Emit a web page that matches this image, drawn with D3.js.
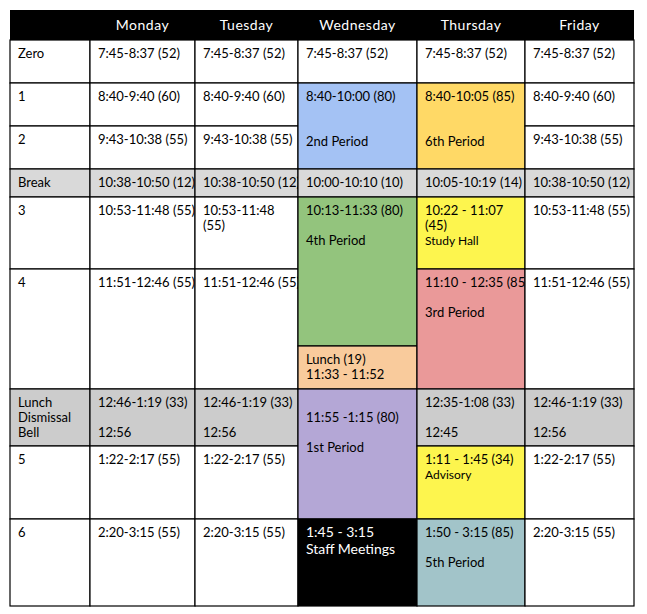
<!DOCTYPE html>
<html><head><meta charset="utf-8">
<script src="https://cdn.jsdelivr.net/npm/d3@7"></script>
<style>body{margin:0;background:#fff}text{font-family:Lato,sans-serif;font-size:13px}</style>
</head><body>
<svg id="chart" width="647" height="614"></svg>
<script>
// columns and header labels
var columns = ['label', 'Monday', 'Tuesday', 'Wednesday', 'Thursday', 'Friday'];
var headers = ['', 'Monday', 'Tuesday', 'Wednesday', 'Thursday', 'Friday'];
// row slots, top to bottom
var slots = ['head', 'zero', 'p1', 'p2', 'break', 'p3', 'p4a', 'p4b', 'lunch', 'p5', 'p6', 'end'];

// cells: column, first slot, last slot (exclusive), text lines ('' = blank line), fill
var cells = [
 {c:'label', s:'zero', e:'p1', t:['Zero'], f:'#fff'},
 {c:'label', s:'p1', e:'p2', t:['1'], f:'#fff'},
 {c:'label', s:'p2', e:'break', t:['2'], f:'#fff'},
 {c:'label', s:'break', e:'p3', t:['Break'], f:'#d9d9d9'},
 {c:'label', s:'p3', e:'p4a', t:['3'], f:'#fff'},
 {c:'label', s:'p4a', e:'lunch', t:['4'], f:'#fff'},
 {c:'label', s:'lunch', e:'p5', t:['Lunch', 'Dismissal', 'Bell'], f:'#cccccc'},
 {c:'label', s:'p5', e:'p6', t:['5'], f:'#fff'},
 {c:'label', s:'p6', e:'end', t:['6'], f:'#fff'},

 {c:'Monday', s:'zero', e:'p1', t:['7:45-8:37 (52)'], f:'#fff'},
 {c:'Monday', s:'p1', e:'p2', t:['8:40-9:40 (60)'], f:'#fff'},
 {c:'Monday', s:'p2', e:'break', t:['9:43-10:38 (55)'], f:'#fff'},
 {c:'Monday', s:'break', e:'p3', t:['10:38-10:50 (12)'], f:'#d9d9d9'},
 {c:'Monday', s:'p3', e:'p4a', t:['10:53-11:48 (55)'], f:'#fff'},
 {c:'Monday', s:'p4a', e:'lunch', t:['11:51-12:46 (55)'], f:'#fff'},
 {c:'Monday', s:'lunch', e:'p5', t:['12:46-1:19 (33)', '', '12:56'], f:'#cccccc'},
 {c:'Monday', s:'p5', e:'p6', t:['1:22-2:17 (55)'], f:'#fff'},
 {c:'Monday', s:'p6', e:'end', t:['2:20-3:15 (55)'], f:'#fff'},

 {c:'Tuesday', s:'zero', e:'p1', t:['7:45-8:37 (52)'], f:'#fff'},
 {c:'Tuesday', s:'p1', e:'p2', t:['8:40-9:40 (60)'], f:'#fff'},
 {c:'Tuesday', s:'p2', e:'break', t:['9:43-10:38 (55)'], f:'#fff'},
 {c:'Tuesday', s:'break', e:'p3', t:['10:38-10:50 (12)'], f:'#d9d9d9'},
 {c:'Tuesday', s:'p3', e:'p4a', t:['10:53-11:48', '(55)'], f:'#fff'},
 {c:'Tuesday', s:'p4a', e:'lunch', t:['11:51-12:46 (55)'], f:'#fff'},
 {c:'Tuesday', s:'lunch', e:'p5', t:['12:46-1:19 (33)', '', '12:56'], f:'#cccccc'},
 {c:'Tuesday', s:'p5', e:'p6', t:['1:22-2:17 (55)'], f:'#fff'},
 {c:'Tuesday', s:'p6', e:'end', t:['2:20-3:15 (55)'], f:'#fff'},

 {c:'Wednesday', s:'zero', e:'p1', t:['7:45-8:37 (52)'], f:'#fff'},
 {c:'Wednesday', s:'p1', e:'break', t:['8:40-10:00 (80)', '', '', '2nd Period'], f:'#a4c2f4'},
 {c:'Wednesday', s:'break', e:'p3', t:['10:00-10:10 (10)'], f:'#d9d9d9'},
 {c:'Wednesday', s:'p3', e:'p4b', t:['10:13-11:33 (80)', '', '4th Period'], f:'#93c47d'},
 {c:'Wednesday', s:'p4b', e:'lunch', t:['Lunch (19)', '11:33 - 11:52'], f:'#f9cb9c'},
 {c:'Wednesday', s:'lunch', e:'p6', t:['', '11:55 -1:15 (80)', '', '1st Period'], f:'#b4a7d6'},
 {c:'Wednesday', s:'p6', e:'end', t:['1:45 - 3:15', 'Staff Meetings'], f:'#000', ink:'#fff', big:true},

 {c:'Thursday', s:'zero', e:'p1', t:['7:45-8:37 (52)'], f:'#fff'},
 {c:'Thursday', s:'p1', e:'break', t:['8:40-10:05 (85)', '', '', '6th Period'], f:'#ffd966'},
 {c:'Thursday', s:'break', e:'p3', t:['10:05-10:19 (14)'], f:'#d9d9d9'},
 {c:'Thursday', s:'p3', e:'p4a', t:['10:22 - 11:07', '(45)', 'Study Hall'], f:'#fdf54e'},
 {c:'Thursday', s:'p4a', e:'lunch', t:['11:10 - 12:35 (85)', '', '3rd Period'], f:'#ea9999'},
 {c:'Thursday', s:'lunch', e:'p5', t:['12:35-1:08 (33)', '', '12:45'], f:'#cccccc'},
 {c:'Thursday', s:'p5', e:'p6', t:['1:11 - 1:45 (34)', 'Advisory'], f:'#fdf54e'},
 {c:'Thursday', s:'p6', e:'end', t:['1:50 - 3:15 (85)', '', '5th Period'], f:'#a2c4c9'},

 {c:'Friday', s:'zero', e:'p1', t:['7:45-8:37 (52)'], f:'#fff'},
 {c:'Friday', s:'p1', e:'p2', t:['8:40-9:40 (60)'], f:'#fff'},
 {c:'Friday', s:'p2', e:'break', t:['9:43-10:38 (55)'], f:'#fff'},
 {c:'Friday', s:'break', e:'p3', t:['10:38-10:50 (12)'], f:'#d9d9d9'},
 {c:'Friday', s:'p3', e:'p4a', t:['10:53-11:48 (55)'], f:'#fff'},
 {c:'Friday', s:'p4a', e:'lunch', t:['11:51-12:46 (55)'], f:'#fff'},
 {c:'Friday', s:'lunch', e:'p5', t:['12:46-1:19 (33)', '', '12:56'], f:'#cccccc'},
 {c:'Friday', s:'p5', e:'p6', t:['1:22-2:17 (55)'], f:'#fff'},
 {c:'Friday', s:'p6', e:'end', t:['2:20-3:15 (55)'], f:'#fff'}
];

// layout scales (ordinal, uneven widths/heights)
var x = d3.scaleOrdinal().domain(columns.concat(['right'])).range([10, 90, 195, 298, 417, 525, 634]);
var y = d3.scaleOrdinal().domain(slots).range([10, 40, 83, 126, 169, 197, 269, 346, 389, 446, 519, 606]);
function nextCol(c){ return columns[columns.indexOf(c) + 1] || 'right'; }

var svg = d3.select('#chart');

// header
svg.append('rect').attr('x', x('label')).attr('y', y('head'))
 .attr('width', x('right') - x('label')).attr('height', y('zero') - y('head')).attr('fill', '#000');
svg.selectAll('text.head').data(columns).enter().append('text')
 .attr('class', 'head')
 .attr('x', function(d){ return (x(d) + x(nextCol(d))) / 2; })
 .attr('y', y('head') + 20)
 .attr('text-anchor', 'middle').attr('fill', '#fff').style('font-size', '14px')
 .style('letter-spacing', '0.5px')
 .text(function(d, i){ return headers[i]; });

// cells
var g = svg.selectAll('g.cell').data(cells).enter().append('g').attr('class', 'cell');
g.append('rect')
 .attr('x', function(d){ return x(d.c); })
 .attr('y', function(d){ return y(d.s); })
 .attr('width', function(d){ return x(nextCol(d.c)) - x(d.c); })
 .attr('height', function(d){ return y(d.e) - y(d.s); })
 .attr('fill', function(d){ return d.f; })
 .attr('stroke', '#000').attr('stroke-width', 1.2);

g.each(function(d){
 var lh = d.big ? 17 : 15;
 var t = d3.select(this).append('text').attr('fill', d.ink || '#000')
  .style('font-size', d.big ? '14px' : null);
 d.t.forEach(function(line, i){
  if (line === '') return;
  t.append('tspan')
   .attr('x', x(d.c) + 8)
   .attr('y', y(d.s) + 18 + i * lh)
   .style('font-size', line === 'Study Hall' || line === 'Advisory' ? '12px' : null)
   .text(line);
 });
});
</script>
</body></html>
